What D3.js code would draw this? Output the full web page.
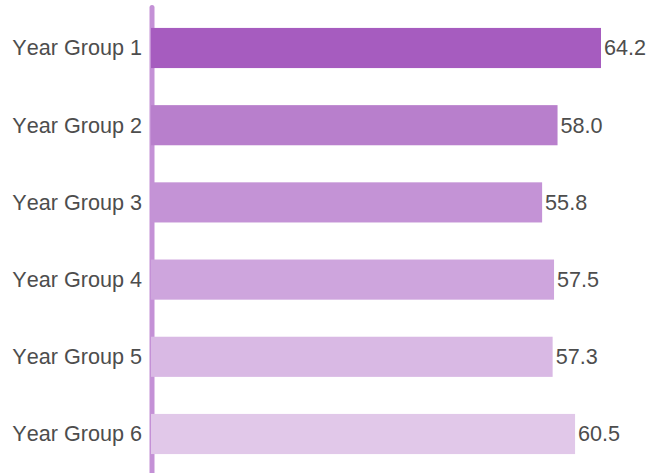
<!DOCTYPE html>
<html>
<head>
<meta charset="utf-8">
<script src="https://cdn.jsdelivr.net/npm/d3@7"></script>
<style>
    body { margin: 0; background: #fff; }
    svg { display: block; font-family: "Liberation Sans", Arial, sans-serif; }
    svg text { font-kerning: none; }
</style>
</head>
<body>
<div id="chart"></div>
<script>
// Data
const categories = ['Year Group 1', 'Year Group 2', 'Year Group 3', 'Year Group 4', 'Year Group 5', 'Year Group 6'];
const values = [64.2, 58.0, 55.8, 57.5, 57.3, 60.5];
const barColors = ['#a65cbf', '#b87fcc', '#c493d6', '#cea5dd', '#d9b9e4', '#e1c8e9'];

const width = 651;
const height = 473;
const axisX = 152;

const svg = d3.select("#chart")
    .append("svg")
    .attr("width", width)
    .attr("height", height);

// y band for groups
const y = d3.scaleBand()
    .domain(categories)
    .range([9.4, 472.6])
    .paddingInner(0.48)
    .paddingOuter(0.24);

// x linear, bars start at the axis line
const x = d3.scaleLinear()
    .domain([0, d3.max(values)])
    .range([151, 601]);

// axis line on the left
svg.append("line")
    .attr("x1", axisX)
    .attr("x2", axisX)
    .attr("y1", 7.5)
    .attr("y2", height + 10)
    .attr("stroke", "#c491d6")
    .attr("stroke-width", 5)
    .attr("stroke-linecap", "round");

const rows = svg.selectAll(".row")
    .data(categories)
    .enter()
    .append("g")
    .attr("class", "row");

rows.append("rect")
    .attr("x", x(0))
    .attr("y", d => y(d))
    .attr("width", (d, i) => x(values[i]) - x(0))
    .attr("height", y.bandwidth())
    .attr("fill", (d, i) => barColors[i]);

// category labels
rows.append("text")
    .attr("x", 142)
    .attr("y", d => y(d) + y.bandwidth() / 2)
    .attr("dy", "0.34em")
    .attr("text-anchor", "end")
    .attr("font-size", 21.6)
    .attr("fill", "#4d4d4d")
    .text(d => d);

// value labels
rows.append("text")
    .attr("x", (d, i) => x(values[i]) + 3)
    .attr("y", d => y(d) + y.bandwidth() / 2)
    .attr("dy", "0.34em")
    .attr("font-size", 21.6)
    .attr("fill", "#4d4d4d")
    .text((d, i) => values[i].toFixed(1));
</script>
</body>
</html>
